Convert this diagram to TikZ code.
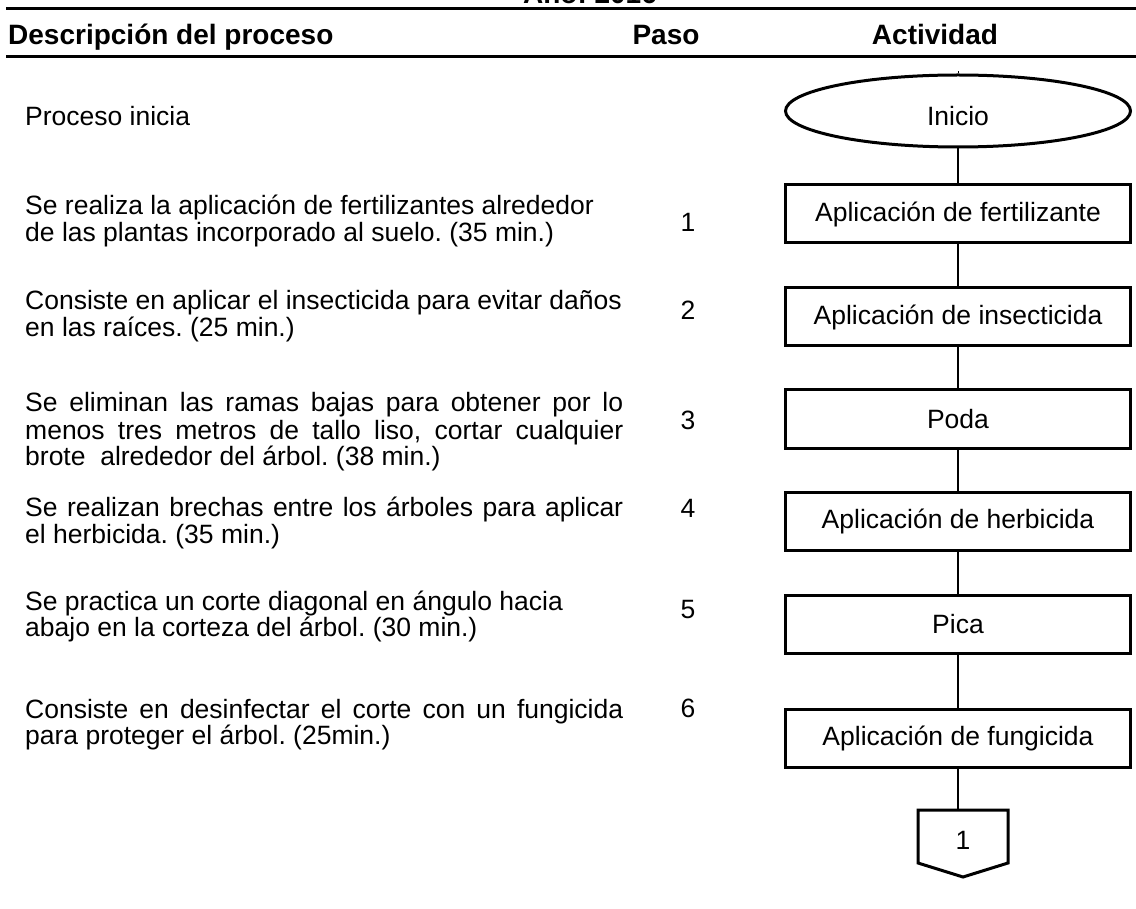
\documentclass[tikz,border=0pt]{standalone}
\usepackage{fontspec}
\setmainfont{Liberation Sans}
\usetikzlibrary{shapes.geometric}
\frenchspacing
\tikzset{
  rule/.style={line width=3pt},
  desc/.style={anchor=base west, inner sep=0pt, font=\fontsize{26.5}{27}\selectfont},
  hdr/.style={anchor=base, inner sep=0pt, font=\fontsize{28}{30}\selectfont\bfseries},
  num/.style={anchor=base, inner sep=0pt, font=\fontsize{26.5}{27}\selectfont},
  act/.style={draw, line width=3pt, minimum width=345pt, minimum height=58pt, inner sep=0pt, font=\fontsize{26.5}{27}\selectfont},
  term/.style={draw, ellipse, line width=3pt, minimum width=345pt, minimum height=72pt, inner sep=0pt, font=\fontsize{26.5}{27}\selectfont},
  link/.style={line width=2.5pt},
}
\newcommand{\jline}[1]{\makebox[598pt][s]{#1}}
\begin{document}
\begin{tikzpicture}[x=1pt,y=-1pt]
\useasboundingbox (0,0) rectangle (1136,909);
% header
\node[hdr] (anio) at (590,4) {Año: 2016};
\draw[rule] (6,9) -- (1136,9);
\node[hdr, anchor=base west] (h1) at (8,45) {Descripción del proceso};
\node[hdr] (h2) at (666,45) {Paso};
\node[hdr] (h3) at (935,45) {Actividad};
\draw[rule] (6,57) -- (1136,57);
% description texts
\node[desc] (d0) at (25,126) {Proceso inicia};
\node[desc] (d1a) at (25,215) {Se realiza la aplicación de fertilizantes alrededor};
\node[desc] (d1b) at (25,242) {de las plantas incorporado al suelo. (35 min.)};
\node[desc] (d2a) at (25,310) {Consiste en aplicar el insecticida para evitar daños};
\node[desc] (d2b) at (25,337) {en las raíces. (25 min.)};
\node[desc] (d3a) at (25,412) {\jline{Se eliminan las ramas bajas para obtener por lo}};
\node[desc] (d3b) at (25,439) {\jline{menos tres metros de tallo liso, cortar cualquier}};
\node[desc] (d3c) at (25,465) {brote\ \ alrededor del árbol. (38 min.)};
\node[desc] (d4a) at (25,516) {\jline{Se realizan brechas entre los árboles para aplicar}};
\node[desc] (d4b) at (25,543) {el herbicida. (35 min.)};
\node[desc] (d5a) at (25,610) {Se practica un corte diagonal en ángulo hacia};
\node[desc] (d5b) at (25,636) {abajo en la corteza del árbol. (30 min.)};
\node[desc] (d6a) at (25,718) {\jline{Consiste en desinfectar el corte con un fungicida}};
\node[desc] (d6b) at (25,744) {para proteger el árbol. (25min.)};
% step numbers
\node[num] (n1) at (688,232) {1};
\node[num] (n2) at (688,320) {2};
\node[num] (n3) at (688,430) {3};
\node[num] (n4) at (688,517) {4};
\node[num] (n5) at (688,618) {5};
\node[num] (n6) at (688,717) {6};
% flowchart
\node[term] (ini) at (958,111) {};
\node[num, anchor=center] (initxt) at (958,116) {Inicio};
\node[act] (a1) at (958,214) {Aplicación de fertilizante};
\node[act] (a2) at (958,317) {Aplicación de insecticida};
\node[act] (a3) at (958,419) {Poda};
\node[act] (a4) at (958,521) {Aplicación de herbicida};
\node[act] (a5) at (958,624) {Pica};
\node[act] (a6) at (958,738) {Aplicación de fungicida};
\coordinate (tick) at (958,71);
\draw[line width=1pt] (ini.north) -- (tick);
\draw[link] (ini) -- (a1);
\draw[link] (a1) -- (a2);
\draw[link] (a2) -- (a3);
\draw[link] (a3) -- (a4);
\draw[link] (a4) -- (a5);
\draw[link] (a5) -- (a6);
% off-page connector
\coordinate (ctop) at (958,810);
\draw[line width=3pt, line join=miter] (918,810) -- (1008,810) -- (1008,863) -- (963,877) -- (918,863) -- cycle;
\node[num, anchor=center] (c1) at (963,840) {1};
\draw[link] (a6) -- (ctop);
\end{tikzpicture}
\end{document}
